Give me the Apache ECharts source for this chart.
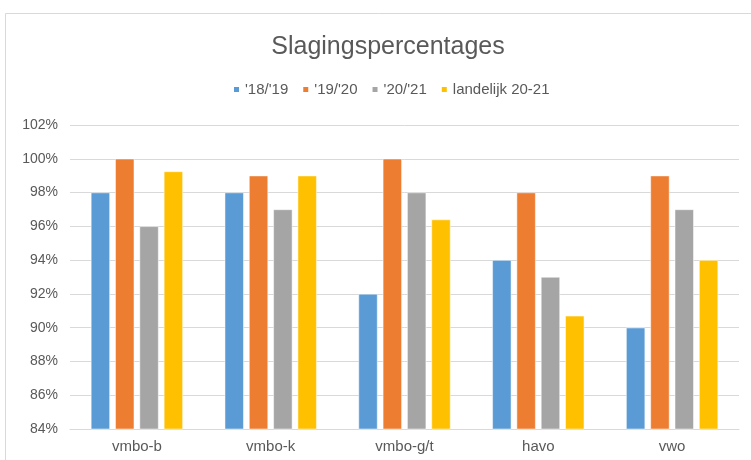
<!DOCTYPE html>
<html>
<head>
<meta charset="utf-8">
<script src="https://cdn.jsdelivr.net/npm/echarts@6/dist/echarts.min.js"></script>
<style>html,body{margin:0;padding:0;background:#fff;}#c{width:751px;height:460px;}</style>
</head>
<body>
<div id="c"></div>
<script>
const categories = ['vmbo-b', 'vmbo-k', 'vmbo-g/t', 'havo', 'vwo'];
const seriesNames = ["'18/'19", "'19/'20", "'20/'21", 'landelijk 20-21'];
const s1819 = [98, 98, 92, 94, 90];
const s1920 = [100, 99, 100, 98, 99];
const s2021 = [96, 97, 98, 93, 97];
const landelijk = [99.25, 99, 96.4, 90.7, 94];
const colors = ['#5B9BD5', '#ED7D31', '#A5A5A5', '#FFC000'];
const FONT = '"Liberation Sans", Arial, sans-serif';

const chart = echarts.init(document.getElementById('c'), null, {renderer: 'canvas'});
const dataSets = [s1819, s1920, s2021, landelijk];
chart.setOption({
  animation: false,
  backgroundColor: '#fff',
  color: colors,
  title: {
    text: 'Slagingspercentages',
    left: 383,
    textAlign: 'center',
    top: 30,
    textStyle: {fontFamily: FONT, fontSize: 25, fontWeight: 'normal', color: '#595959'}
  },
  legend: {
    top: 77,
    left: 227,
    itemWidth: 7,
    itemHeight: 7,
    itemGap: 13,
    icon: 'rect',
    textStyle: {fontFamily: FONT, fontSize: 15, color: '#595959'},
    data: seriesNames
  },
  grid: {left: 70, right: 12, top: 125, bottom: 31, containLabel: false},
  xAxis: {
    type: 'category',
    data: categories,
    axisLine: {lineStyle: {color: '#D9D9D9', width: 1}},
    axisTick: {show: false},
    axisLabel: {fontFamily: FONT, fontSize: 15, color: '#595959', margin: 10}
  },
  yAxis: {
    type: 'value',
    min: 84,
    max: 102,
    interval: 2,
    axisLine: {show: false},
    axisTick: {show: false},
    splitLine: {lineStyle: {color: '#D9D9D9', width: 1}},
    axisLabel: {fontFamily: FONT, fontSize: 14, color: '#595959', formatter: '{value}%', margin: 12}
  },
  graphic: [{
    type: 'rect',
    shape: {x: 5.5, y: 13.5, width: 800, height: 500},
    style: {fill: 'none', stroke: '#D9D9D9', lineWidth: 1},
    z: -1
  }],
  series: dataSets.map((d, i) => ({
    name: seriesNames[i],
    type: 'bar',
    data: d,
    barWidth: 19,
    barGap: '28%',
    itemStyle: {color: colors[i], borderColor: '#fff', borderWidth: 0.5}
  }))
});
</script>
</body>
</html>
